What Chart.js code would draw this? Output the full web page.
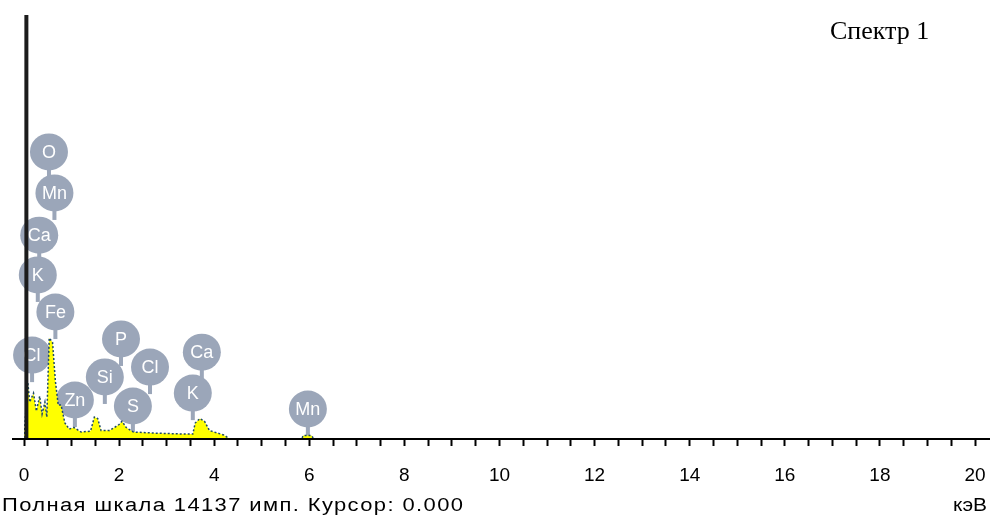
<!DOCTYPE html>
<html lang="ru">
<head>
    <meta charset="UTF-8">
    <title>Спектр 1</title>
    <script src="https://cdn.jsdelivr.net/npm/chart.js"></script>
    <style>
        html, body {
            margin: 0;
            padding: 0;
            background: #fff;
        }
        #wrap {
            position: relative;
            width: 990px;
            height: 517px;
        }
    </style>
</head>
<body>
<div id="wrap">
    <canvas id="spektr" width="990" height="517"></canvas>
</div>
<script>
    // Данные спектра (энергия, кэВ / счёт, имп.)
    const energyKeV = [0.00, 0.03, 0.08, 0.12, 0.20, 0.26, 0.33, 0.38, 0.44, 0.48, 0.53, 0.60, 0.66, 0.72, 0.78,
        0.86, 0.95, 1.05, 1.20, 1.40, 1.48, 1.55, 1.62, 1.80, 2.00, 2.06, 2.15, 2.30, 2.80, 3.40, 3.55, 3.60,
        3.70, 3.80, 3.90, 4.20, 4.30, 5.85, 5.87, 6.05, 6.08];
    const counts = [0, 700, 1850, 1200, 1500, 900, 1400, 800, 1200, 700, 3340, 3200, 1900, 1100, 1100,
        500, 300, 350, 200, 230, 700, 650, 250, 250, 450, 560, 350, 200, 160, 130, 130, 500,
        650, 550, 250, 100, 0, 0, 80, 80, 0];
    const fullScale = 14137;       // полная шкала, имп.
    const zeroPeakKeV = 0.05;      // пик нуля (обрезан)

    // Метки элементов: энергия линии и высота метки (в имп.)
    const elementNames  = ['O', 'Mn', 'Ca', 'K', 'Fe', 'Cl', 'Zn', 'Si', 'P', 'Cl', 'S', 'Ca', 'K', 'Mn'];
    const elementEnergy = [0.525, 0.64, 0.32, 0.29, 0.66, 0.17, 1.07, 1.70, 2.04, 2.65, 2.29, 3.74, 3.55, 5.97];
    const elementLevel  = [9560, 8190, 6780, 5450, 4210, 2770, 1270, 2040, 3310, 2370, 1070, 2870, 1500, 970];

    const tickLabels = ['0', '2', '4', '6', '8', '10', '12', '14', '16', '18', '20'];

    const spectrum = energyKeV.map((e, i) => ({ x: e, y: counts[i] }));

    // растянутый текст под заданную ширину (шрифт в оригинале широкий)
    function wideText(ctx, text, x, y, width) {
        ctx.save();
        ctx.letterSpacing = '0px';
        const w = ctx.measureText(text).width;
        const s = Math.min(1.22, width / w);
        ctx.translate(x, y);
        ctx.scale(s, 1);
        ctx.letterSpacing = ((width / s - w) / (text.length - 1)).toFixed(2) + 'px';
        ctx.fillText(text, 0, 0);
        ctx.restore();
    }

    // Рисуем метки элементов (кружки со стержнем) под спектром
    const bubbles = {
        id: 'bubbles',
        beforeDatasetsDraw(chart) {
            const ctx = chart.ctx;
            const xs = chart.scales.x, ys = chart.scales.y;
            ctx.save();
            elementNames.forEach((name, i) => {
                const cx = xs.getPixelForValue(elementEnergy[i]);
                const cy = ys.getPixelForValue(elementLevel[i]);
                ctx.fillStyle = '#9ba6b9';
                ctx.fillRect(cx - 2, cy, 4, 27);
                ctx.beginPath();
                ctx.ellipse(cx, cy, 19, 18.5, 0, 0, Math.PI * 2);
                ctx.fill();
                ctx.fillStyle = '#ffffff';
                ctx.font = '18px "Liberation Sans", Arial, sans-serif';
                ctx.textAlign = 'center';
                ctx.textBaseline = 'middle';
                ctx.fillText(name, cx, cy + 1);
            });
            ctx.restore();
        },
        afterDraw(chart) {
            const ctx = chart.ctx;
            const area = chart.chartArea;
            ctx.save();
            // ось X
            ctx.strokeStyle = '#000';
            ctx.lineWidth = 2;
            ctx.beginPath();
            ctx.moveTo(12, area.bottom + 1);
            ctx.lineTo(990, area.bottom + 1);
            ctx.stroke();
            // подписи
            ctx.fillStyle = '#000';
            ctx.font = '18px "Liberation Sans", Arial, sans-serif';
            ctx.textBaseline = 'middle';
            ctx.textAlign = 'left';
            wideText(ctx, 'Полная шкала ' + fullScale + ' имп. Курсор: 0.000', 2, 506, 461);
            wideText(ctx, 'кэВ', 953, 506, 34);
            ctx.font = '26px "Liberation Serif", "Times New Roman", serif';
            ctx.fillText('Спектр 1', 830, 32);
            ctx.restore();
        }
    };

    new Chart(document.getElementById('spektr'), {
        type: 'line',
        data: {
            datasets: [
                {
                    label: 'Пик нуля',
                    data: [{ x: zeroPeakKeV, y: 0 }, { x: zeroPeakKeV, y: fullScale }],
                    borderColor: '#1c1c1c',
                    borderWidth: 4,
                    pointRadius: 0,
                    fill: false,
                    order: 0
                },
                {
                    label: 'Спектр 1',
                    data: spectrum,
                    backgroundColor: '#ffff00',
                    borderColor: '#1d4a66',
                    borderWidth: 1.5,
                    borderDash: [2, 2],
                    pointRadius: 0,
                    tension: 0,
                    fill: 'origin',
                    order: 1,
                    // на нулевом уровне контур не рисуем
                    segment: {
                        borderColor: (c) => (c.p0.parsed.y === 0 && c.p1.parsed.y === 0 ? 'rgba(0,0,0,0)' : undefined)
                    }
                }
            ]
        },
        options: {
            responsive: false,
            animation: false,
            layout: { padding: { left: 24, right: 15, top: 15, bottom: 0 } },
            plugins: {
                legend: { display: false },
                tooltip: { enabled: false }
            },
            scales: {
                x: {
                    type: 'linear',
                    min: 0,
                    max: 20,
                    border: { display: false },
                    afterFit(scale) {
                        scale.height = 79;
                        scale.paddingLeft = 0;
                        scale.paddingRight = 0;
                    },
                    grid: {
                        drawOnChartArea: false,
                        drawTicks: true,
                        tickLength: 8,
                        tickWidth: 2,
                        tickColor: '#000'
                    },
                    ticks: {
                        stepSize: 0.5,
                        autoSkip: false,
                        maxRotation: 0,
                        padding: 18,
                        color: '#000',
                        font: { family: '"Liberation Sans", Arial, sans-serif', size: 19 },
                        callback: (v) => (v % 2 === 0 ? tickLabels[v / 2] : '')
                    }
                },
                y: {
                    display: false,
                    min: 0,
                    max: fullScale
                }
            }
        },
        plugins: [bubbles]
    });
</script>
</body>
</html>
